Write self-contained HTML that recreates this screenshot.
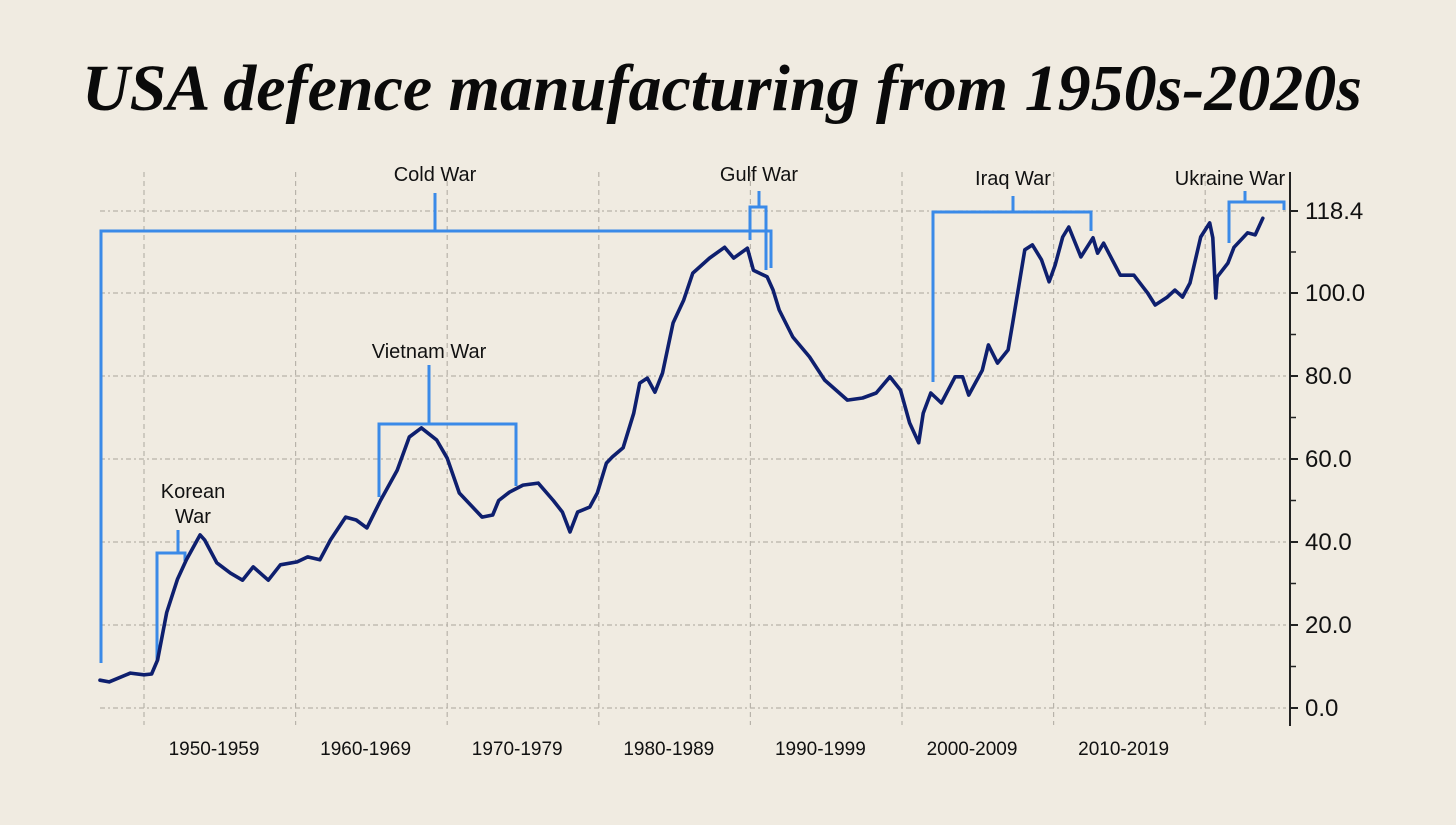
<!DOCTYPE html>
<html><head><meta charset="utf-8">
<style>
html,body{margin:0;padding:0;background:#f0ebe1;}
svg{display:block;}
text{font-family:"Liberation Sans",sans-serif;}
</style></head>
<body>
<svg id="chart" width="1456" height="825" viewBox="0 0 1456 825" xmlns="http://www.w3.org/2000/svg">
<rect x="0" y="0" width="1456" height="825" fill="#f0ebe1"/>
<text x="82" y="110" textLength="1280" lengthAdjust="spacingAndGlyphs" font-family="Liberation Serif, serif" font-weight="bold" font-style="italic" font-size="66" fill="#0a0a0a" style="font-family:'Liberation Serif',serif">USA defence manufacturing from 1950s-2020s</text>
<g id="grid"></g>
<g id="axis"></g>
<g id="annot"></g>
<g id="series"></g>
</svg>
<script>
const years = [1947.1,1947.7,1949.1,1950,1950.5,1950.9,1951.5,1952.2,1952.8,1953.7,1954,1954.8,1955.7,1956.5,1957.2,1958.2,1959,1960.1,1960.8,1961.6,1962.3,1963.3,1964,1964.7,1965.6,1966.7,1967.5,1968.3,1969.3,1970,1970.8,1972.3,1973,1973.4,1974.1,1975,1976,1977,1977.6,1978.1,1978.6,1979.4,1979.9,1980.5,1980.9,1981.6,1982.3,1982.7,1983.2,1983.7,1984.2,1984.9,1985.6,1986.2,1987.3,1988.3,1988.9,1989.8,1990.2,1991.1,1991.5,1991.9,1992.8,1993.9,1994.9,1996.4,1997.4,1998.3,1999.2,1999.9,2000.5,2001.1,2001.4,2001.9,2002.6,2003.5,2004,2004.4,2005.3,2005.7,2006.3,2007,2007.3,2008.1,2008.6,2009.2,2009.7,2010.1,2010.6,2011,2011.8,2012.6,2012.9,2013.3,2014.4,2015.3,2016.2,2016.7,2017.5,2018,2018.5,2019,2019.7,2020.3,2020.5,2020.7,2020.8,2021.5,2021.9,2022.8,2023.3,2023.8];
const values = [6.7,6.3,8.4,8,8.2,11.6,23,31,35.7,41.7,40.5,35,32.5,30.8,34,30.8,34.5,35.2,36.4,35.7,40.5,46,45.3,43.4,50,57.3,65.3,67.5,64.6,60.2,51.8,46,46.5,50,52,53.7,54.2,50,47.2,42.4,47.2,48.4,51.8,59,60.5,62.7,71,78.3,79.5,76.1,80.7,92.8,98.3,104.8,108.4,111,108.4,110.8,105.5,103.9,100.7,95.9,89.4,84.6,79,74.2,74.7,75.9,79.8,76.6,68.7,63.9,71,75.9,73.5,79.8,79.8,75.4,81.4,87.5,83.1,86.3,92.8,110.4,111.6,108,102.7,106.7,113.5,115.9,108.7,113.3,109.6,112,104.3,104.3,100,97.1,99,100.7,99,102.4,113.5,116.9,113.3,98.8,103.9,107.2,111,114.5,114,118];
const yTicks = [0,20,40,60,80,100,118.4];
const yTickLabels = ["0.0","20.0","40.0","60.0","80.0","100.0","118.4"];
const decadeStarts = [1950,1960,1970,1980,1990,2000,2010,2020];
const decadeLabels = ["1950-1959","1960-1969","1970-1979","1980-1989","1990-1999","2000-2009","2010-2019"];

const NS="http://www.w3.org/2000/svg";
function X(yr){return 144+(yr-1950)*15.16;}
function Y(v){return 708-v*4.15;}
function mk(tag,attrs,parent){const e=document.createElementNS(NS,tag);for(const k in attrs)e.setAttribute(k,attrs[k]);parent.appendChild(e);return e;}
const grid=document.getElementById('grid'),axis=document.getElementById('axis'),annot=document.getElementById('annot'),series=document.getElementById('series');

yTicks.forEach((t,i)=>{
  const y=(i===yTicks.length-1)?211:Y(t);
  const l=mk('line',{x1:100,x2:1286,y1:y,y2:y,stroke:'#b8b3aa','stroke-width':1.2,'stroke-dasharray':'5,3,2,3'},grid);
  
  
  const tk=mk('line',{x1:1290,x2:1298,y1:y,y2:y,stroke:'#222','stroke-width':2},axis);
  
  
  const tx=mk('text',{x:1305,y:y+8,'font-size':24,fill:'#111'},axis);
  tx.textContent=yTickLabels[i];
  
  
  if(i<yTicks.length-1){
    const ny=(i+1===yTicks.length-1)?211:Y(yTicks[i+1]);
    const mt=mk('line',{x1:1290,x2:1296,y1:(y+ny)/2,y2:(y+ny)/2,stroke:'#222','stroke-width':1.5},axis);
    
    
  }
});
decadeStarts.forEach(d=>{
  const x=X(d);
  const l=mk('line',{x1:x,x2:x,y1:172,y2:725,stroke:'#b8b3aa','stroke-width':1.2,'stroke-dasharray':'5,4'},grid);
  
  
});
decadeLabels.forEach((lab,i)=>{
  const tx=mk('text',{x:X(decadeStarts[i])+70,y:755,'font-size':19,fill:'#111','text-anchor':'middle'},axis);
  tx.textContent=lab;
  
  
});
const ax=mk('line',{x1:1290,x2:1290,y1:172,y2:726,stroke:'#222','stroke-width':2},axis);



const blue='#3a8ae8';
function bracket(name,pts,tick,label,lines,ly){
  const p=mk('polyline',{points:pts,fill:'none',stroke:blue,'stroke-width':3},annot);
  
  
  const t=mk('line',{x1:tick[0],x2:tick[0],y1:tick[1],y2:tick[2],stroke:blue,'stroke-width':3},annot);
  
  
  lines.forEach((s,i)=>{
    const tx=mk('text',{x:label,y:ly+i*25,'font-size':20,fill:'#111','text-anchor':'middle'},annot);
    tx.textContent=s;
    
    
  });
}
bracket('cold-war','101,663 101,231 771,231 771,268',[435,231,193],435,['Cold War'],181);
bracket('korean-war','157,660 157,553 185,553 185,561',[178,553,530],193,['Korean','War'],498);
bracket('vietnam-war','379,497 379,424 516,424 516,486',[429,424,365],429,['Vietnam War'],358);
bracket('gulf-war','750,240 750,207 766,207 766,270',[759,207,191],759,['Gulf War'],181);
bracket('iraq-war','933,382 933,212 1091,212 1091,231',[1013,212,196],1013,['Iraq War'],185);
bracket('ukraine-war','1229,243 1229,202 1284,202 1284,210',[1245,202,191],1230,['Ukraine War'],185);

const d=years.map((yr,i)=>(i?'L':'M')+X(yr).toFixed(1)+','+Y(values[i]).toFixed(1)).join(' ');
const path=mk('path',{d:d,fill:'none',stroke:'#0e1f6e','stroke-width':3.6,'stroke-linejoin':'round','stroke-linecap':'round'},series);


</script>
</body></html>
